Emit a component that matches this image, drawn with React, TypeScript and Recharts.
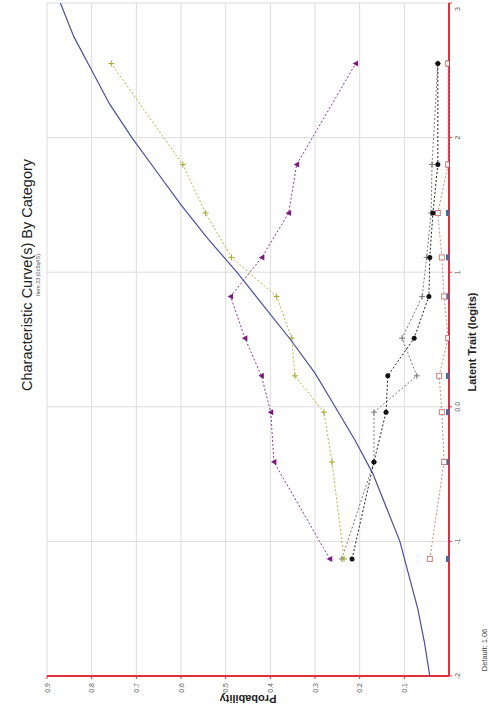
import React from 'react'
import { ScatterChart, Scatter, XAxis, YAxis, CartesianGrid } from 'recharts'

// ось латентной черты (logits) — позиции групп
const T_POS = [-1.13, -0.41, -0.04, 0.23, 0.51, 0.82, 1.11, 1.44, 1.8, 2.55]

// наблюдаемые доли по категориям
const CAT_PURPLE = [0.267, 0.392, 0.399, 0.42, 0.457, 0.489, 0.419, 0.359, 0.341, 0.209]
const CAT_YELLOW = [0.235, 0.262, 0.28, 0.345, 0.352, 0.386, 0.487, 0.545, 0.596, 0.756]
const CAT_BLACK = [0.217, 0.168, 0.141, 0.137, 0.078, 0.045, 0.043, 0.036, 0.025, 0.025]
const CAT_GRAY = [0.24, 0.168, 0.168, 0.072, 0.105, 0.06, 0.05, 0.04, 0.038, 0.025]
const CAT_SALMON = [0.043, 0.011, 0.016, 0.022, 0.002, 0.011, 0.016, 0.025, 0.002, 0.002]
const CAT_BLUE = [0, 0, 0, 0, 0, 0, 0, 0, 0, 0]

// модельная кривая
const CURVE_T = [-2, -1.75, -1.5, -1.25, -1, -0.75, -0.5, -0.25, 0, 0.25, 0.5, 0.75, 1, 1.25, 1.5, 1.75, 2, 2.25, 2.5, 2.75, 3]
const CURVE_P = [0.043, 0.055, 0.07, 0.09, 0.11, 0.14, 0.17, 0.21, 0.255, 0.3, 0.355, 0.415, 0.475, 0.54, 0.6, 0.655, 0.71, 0.76, 0.8, 0.84, 0.87]

const PROB_TICKS = [0.1, 0.2, 0.3, 0.4, 0.5, 0.6, 0.7, 0.8, 0.9]
const LOGIT_TICKS = [-2, -1, 0, 1, 2, 3]
const LOGIT_LABELS = ['-2', '-1', '0.0', '1', '2', '3']

const toPts = (vals: number[], ts: number[]) => vals.map((p, i) => ({ p, t: ts[i] }))

const RED = '#e0303c'
const FONT = '"Liberation Sans", Arial, sans-serif'

const Plus = (color: string) => (props: any) => (
  <g stroke={color} strokeWidth={1}>
    <line x1={props.cx - 3} y1={props.cy} x2={props.cx + 3} y2={props.cy} />
    <line x1={props.cx} y1={props.cy - 3} x2={props.cx} y2={props.cy + 3} />
  </g>
)
const Dot = (color: string) => (props: any) => <circle cx={props.cx} cy={props.cy} r={2.5} fill={color} />
const Tri = (color: string) => (props: any) => (
  <path d={`M${props.cx - 3},${props.cy} L${props.cx + 2.5},${props.cy - 3} L${props.cx + 2.5},${props.cy + 3} Z`} fill={color} />
)
const Sq = (color: string, filled: boolean) => (props: any) => (
  <rect x={props.cx - 2.5} y={props.cy - 2.5} width={5} height={5}
    fill={filled ? color : 'white'} stroke={color} strokeWidth={1} />
)
const NoShape = () => <g />

const ProbTick = (props: any) => {
  const { x, y, payload } = props
  return (
    <text transform={`translate(${x},${y + 2}) rotate(-90)`} textAnchor="end" dominantBaseline="central"
      fontSize={7} fill="#555" fontFamily={FONT}>
      {payload.value.toFixed(1)}
    </text>
  )
}

const LogitTick = (props: any) => {
  const { x, y, payload } = props
  const i = LOGIT_TICKS.indexOf(payload.value)
  return (
    <text transform={`translate(${x + 3},${y}) rotate(-90)`} textAnchor="middle" dominantBaseline="central"
      fontSize={7} fill="#555" fontFamily={FONT}>
      {LOGIT_LABELS[i]}
    </text>
  )
}

const dash = (color: string) => ({ stroke: color, strokeDasharray: '2 2', strokeWidth: 1 })

export default function App() {
  return (
    <div style={{ position: 'absolute', left: 0, top: 0, width: 489, height: 719, background: '#fff' }}>
      <ScatterChart width={489} height={719} margin={{ top: 3, right: 10, bottom: 13, left: 47 }}>
        <CartesianGrid stroke="#dcdcdc" strokeWidth={1} />
        <XAxis type="number" dataKey="p" domain={[0, 0.9]} reversed ticks={PROB_TICKS}
          axisLine={{ stroke: RED, strokeWidth: 2 }} tickLine={{ stroke: RED }} tickSize={3}
          height={30} tick={<ProbTick />} allowDataOverflow />
        <YAxis type="number" dataKey="t" domain={[-2, 3]} orientation="right" ticks={LOGIT_TICKS}
          axisLine={{ stroke: RED, strokeWidth: 2 }} tickLine={{ stroke: RED }} tickSize={3}
          width={30} tick={<LogitTick />} allowDataOverflow />

        <Scatter data={toPts(CAT_BLUE, T_POS)} line={dash('#6a4a98')} lineType="joint"
          shape={Sq('#3b6ea8', true)} isAnimationActive={false} />
        <Scatter data={toPts(CAT_SALMON, T_POS)} line={dash('#c98a8a')} lineType="joint"
          shape={Sq('#c98080', false)} isAnimationActive={false} />
        <Scatter data={toPts(CAT_GRAY, T_POS)} line={dash('#7a7a7a')} lineType="joint"
          shape={Plus('#777')} isAnimationActive={false} />
        <Scatter data={toPts(CAT_BLACK, T_POS)} line={dash('#222')} lineType="joint"
          shape={Dot('#111')} isAnimationActive={false} />
        <Scatter data={toPts(CAT_YELLOW, T_POS)} line={dash('#b8b840')} lineType="joint"
          shape={Plus('#a8a830')} isAnimationActive={false} />
        <Scatter data={toPts(CAT_PURPLE, T_POS)} line={dash('#8a3a8a')} lineType="joint"
          shape={Tri('#7a1a80')} isAnimationActive={false} />
        <Scatter data={toPts(CURVE_P, CURVE_T)} line={{ stroke: '#4b4f9c', strokeWidth: 1.2 }} lineType="joint"
          shape={NoShape} isAnimationActive={false} />
      </ScatterChart>

      <svg width={489} height={719} style={{ position: 'absolute', left: 0, top: 0, pointerEvents: 'none' }}>
        <text transform="translate(27,275) rotate(-90)" textAnchor="middle" dominantBaseline="central"
          fontSize={14.5} fill="#222" fontFamily={FONT}>
          Characteristic Curve(s) By Category
        </text>
        <text transform="translate(38,275) rotate(-90)" textAnchor="middle" dominantBaseline="central"
          fontSize={5.5} fill="#555" fontFamily={FONT}>
          Item 23 (0c5q4S)
        </text>
        <text transform="translate(248,699) rotate(180)" textAnchor="middle" dominantBaseline="central"
          fontSize={11} fontWeight="bold" fill="#222" fontFamily={FONT}>
          Probability
        </text>
        <text transform="translate(472,342) rotate(-90)" textAnchor="middle" dominantBaseline="central"
          fontSize={11} fontWeight="bold" fill="#222" fontFamily={FONT}>
          Latent Trait (logits)
        </text>
        <text transform="translate(484,650) rotate(-90)" textAnchor="middle" dominantBaseline="central"
          fontSize={7.5} fill="#444" fontFamily={FONT}>
          Default:  1.06
        </text>
      </svg>
    </div>
  )
}
